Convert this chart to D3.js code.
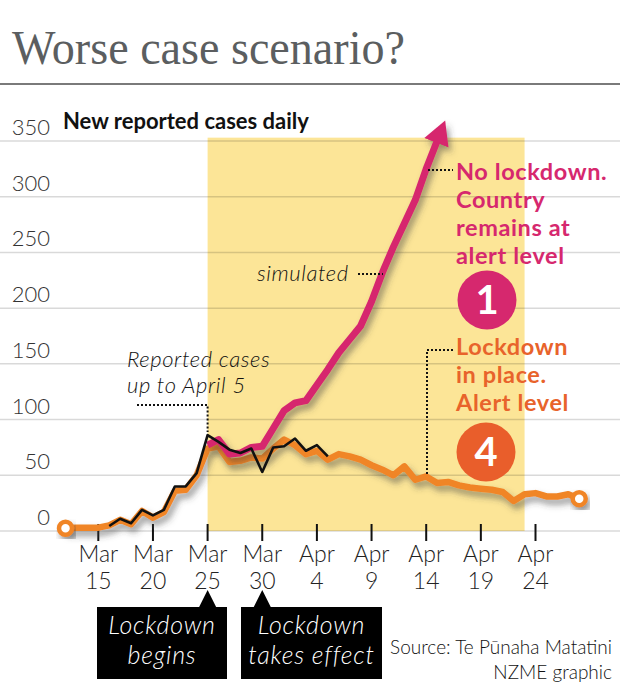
<!DOCTYPE html>
<html><head><meta charset="utf-8">
<script src="https://cdn.jsdelivr.net/npm/d3@7"></script>
<style>
html,body{margin:0;padding:0;background:#fff;}
svg{display:block;}
</style></head>
<body>
<script>
// ---------- DATA ----------
const yTicks = [0, 50, 100, 150, 200, 250, 300, 350];
const xTickDates = ["2020-03-15","2020-03-20","2020-03-25","2020-03-30","2020-04-04","2020-04-09","2020-04-14","2020-04-19","2020-04-24"];
const xTickMonth = ["Mar","Mar","Mar","Mar","Apr","Apr","Apr","Apr","Apr"];
const xTickDay = ["15","20","25","30","4","9","14","19","24"];

// Simulated: lockdown in place, alert level 4 (daily from Mar 12)
const level4Start = "2020-03-12";
const level4Values = [2.5,3,3,3,5,10,6,18,12,17,36,37,50,74,76,62,63,66,65,74,
  82,77,69,72,64,69,67,64,59,55,50,58,46,49,43,44,41,39,38,37,35,27,33,34,31,31,33,29];

// Reported cases up to April 5 (daily from Mar 16)
const reportedStart = "2020-03-16";
const reportedValues = [4.5,11,7,19,14,19,40,40,52,86,80,73,70,74,53,75,76,83,72,77,67];

// Simulated: no lockdown, alert level 1 (daily from Mar 25)
const level1Start = "2020-03-25";
const level1Values = [77,82,69,70,75,76,92,108,115,117,131,145,160,172,184,206,232,255,276,297,325,350];

const shadeStart = "2020-03-25", shadeEnd = "2020-04-23";
const lockdownBegins = "2020-03-25", lockdownEffect = "2020-03-30";

// ---------- SETUP ----------
const W = 620, H = 693;
const parse = d3.utcParse("%Y-%m-%d");
const series = (start, vals) => vals.map((v, i) => ({date: d3.utcDay.offset(parse(start), i), v}));

const x = d3.scaleUtc().domain([parse("2020-03-15"), parse("2020-04-24")]).range([98.3, 535.5]);
const y = d3.scaleLinear().domain([0, 350]).range([531, 141]);

const svg = d3.select("body").append("svg").attr("width", W).attr("height", H)
  .style("font-family", "Lato, 'Open Sans', sans-serif");

const defs = svg.append("defs");
const f = defs.append("filter").attr("id","shadow").attr("x","-20%").attr("y","-20%").attr("width","150%").attr("height","150%");
f.append("feDropShadow").attr("dx",3).attr("dy",5).attr("stdDeviation",3).attr("flood-color","#3a3a3a").attr("flood-opacity",0.5);

const pink = "#d6286e", orange = "#f08527", orangeText = "#e8632b", orangeCircle = "#e95e2b";

defs.append("marker").attr("id","arrow").attr("markerUnits","userSpaceOnUse")
  .attr("viewBox","0 -14 26 28").attr("refX",2).attr("refY",0)
  .attr("markerWidth",26).attr("markerHeight",28).attr("orient","auto")
  .append("path").attr("d","M0,-13L24,0L0,13Z").attr("fill", pink);

// Title
svg.append("text").attr("x", 12).attr("y", 64)
  .attr("font-family", "'Liberation Serif', 'DejaVu Serif', serif")
  .attr("font-size", 49).attr("fill", "#5b5e60")
  .attr("textLength", 393).attr("lengthAdjust", "spacingAndGlyphs")
  .text("Worse case scenario?");
svg.append("line").attr("x1",0).attr("x2",W).attr("y1",84).attr("y2",84)
  .attr("stroke","#7a7a7a").attr("stroke-width",2);

// Shaded lockdown region
svg.append("rect")
  .attr("x", x(parse(shadeStart))).attr("y", y(353))
  .attr("width", x(parse(shadeEnd)) - x(parse(shadeStart)))
  .attr("height", y(0) - y(353))
  .attr("fill", "#fce597");

// Gridlines
svg.append("g").selectAll("line").data(yTicks).join("line")
  .attr("x1", 0).attr("x2", W).attr("y1", d => y(d)).attr("y2", d => y(d))
  .attr("stroke", "#000").attr("stroke-opacity", 0.15).attr("stroke-width", 1.5);

// Y labels
svg.append("g").selectAll("text").data(yTicks).join("text")
  .attr("x", 50).attr("y", d => y(d) - 6).attr("text-anchor", "end")
  .attr("font-size", 22).attr("font-weight", 300).attr("fill", "#333")
  .text(d => d);

// Subtitle
svg.append("text").attr("x", 63).attr("y", 129)
  .attr("font-size", 22).attr("font-weight", 700).attr("fill", "#111")
  .text("New reported cases daily");

// X ticks
const xt = svg.append("g");
xTickDates.forEach((d, i) => {
  const xx = x(parse(d));
  xt.append("line").attr("x1", xx).attr("x2", xx).attr("y1", 524).attr("y2", 541)
    .attr("stroke", "#111").attr("stroke-width", 2);
  xt.append("text").attr("x", xx).attr("y", 562).attr("text-anchor","middle")
    .attr("font-size", 23).attr("font-weight", 300).attr("fill","#222").text(xTickMonth[i]);
  xt.append("text").attr("x", xx).attr("y", 589).attr("text-anchor","middle")
    .attr("font-size", 23).attr("font-weight", 300).attr("fill","#222").text(xTickDay[i]);
});

// Lines
const line = d3.line().x(d => x(d.date)).y(d => y(d.v)).curve(d3.curveLinear);
const l4 = series(level4Start, level4Values);
const l1 = series(level1Start, level1Values);
const rep = series(reportedStart, reportedValues);

svg.append("path").datum(l4).attr("d", line).attr("fill","none")
  .attr("stroke", orange).attr("stroke-width", 6.5).attr("stroke-linejoin","round")
  .attr("filter","url(#shadow)");
svg.append("path").datum(l1).attr("d", line).attr("fill","none")
  .attr("stroke", pink).attr("stroke-width", 7).attr("stroke-linejoin","round")
  .attr("marker-end","url(#arrow)").attr("filter","url(#shadow)");
svg.append("path").datum(rep).attr("d", line).attr("fill","none")
  .attr("stroke", "#111").attr("stroke-width", 2.6).attr("stroke-linejoin","round");

// End circles on orange line
[l4[0], l4[l4.length-1]].forEach(p => {
  svg.append("circle").attr("cx", x(p.date)).attr("cy", y(p.v)).attr("r", 6.5)
    .attr("fill","#fff").attr("stroke", orange).attr("stroke-width", 4.5)
    .attr("filter","url(#shadow)");
});

// Dotted leaders
const dot = g => g.attr("fill","none").attr("stroke","#111").attr("stroke-width",2).attr("stroke-dasharray","2,2");
svg.append("path").attr("d", `M137,405H${x(parse(lockdownBegins))}V432`).call(dot);
svg.append("path").attr("d", "M358,274H383").call(dot);
svg.append("path").attr("d", "M428,170H453").call(dot);
svg.append("path").attr("d", "M453,350H427V474").call(dot);

// Annotations
const it = (t, xx, yy) => svg.append("text").attr("x", xx).attr("y", yy)
  .attr("font-size", 22).attr("letter-spacing", 0.6).attr("font-style","italic")
  .attr("font-weight",300).attr("fill","#111").text(t);
it("Reported cases", 127, 367);
it("up to April 5", 127, 393);
it("simulated", 257, 281);

const bold = (t, xx, yy, c) => svg.append("text").attr("x", xx).attr("y", yy)
  .attr("font-size", 23.5).attr("letter-spacing", 0.6).attr("font-weight", 700).attr("fill", c).text(t);
["No lockdown.","Country","remains at","alert level"].forEach((t,i) => bold(t, 456, 180 + i*28, pink));
["Lockdown","in place.","Alert level"].forEach((t,i) => bold(t, 456, 355 + i*28, orangeText));

svg.append("circle").attr("cx", 487).attr("cy", 300).attr("r", 29.5).attr("fill", pink);
svg.append("text").attr("x", 487).attr("y", 314).attr("text-anchor","middle")
  .attr("font-size", 40).attr("font-weight", 700).attr("fill","#fff").text("1");
svg.append("circle").attr("cx", 486).attr("cy", 452).attr("r", 29.5).attr("fill", orangeCircle);
svg.append("text").attr("x", 486).attr("y", 466).attr("text-anchor","middle")
  .attr("font-size", 40).attr("font-weight", 700).attr("fill","#fff").text("4");

// Bottom callout boxes
function callout(x0, w, tipX, lines) {
  svg.append("rect").attr("x", x0).attr("y", 607).attr("width", w).attr("height", 72).attr("fill", "#000");
  svg.append("path").attr("d", `M${tipX},590L${tipX-9},608L${tipX+9},608Z`).attr("fill","#000");
  lines.forEach((t, i) => svg.append("text").attr("x", x0 + w/2).attr("y", 634 + i*30)
    .attr("text-anchor","middle").attr("font-size", 25).attr("letter-spacing", 0.8).attr("font-style","italic")
    .attr("font-weight", 300).attr("fill","#fff").text(t));
}
callout(97, 130, x(parse(lockdownBegins)), ["Lockdown","begins"]);
callout(241, 141, x(parse(lockdownEffect)), ["Lockdown","takes effect"]);

// Source
svg.append("text").attr("x", 612).attr("y", 654).attr("text-anchor","end")
  .attr("font-size", 19).attr("font-weight", 300).attr("fill","#111").text("Source: Te Pūnaha Matatini");
svg.append("text").attr("x", 612).attr("y", 679).attr("text-anchor","end")
  .attr("font-size", 19).attr("font-weight", 300).attr("fill","#111").text("NZME graphic");
</script>
</body></html>
